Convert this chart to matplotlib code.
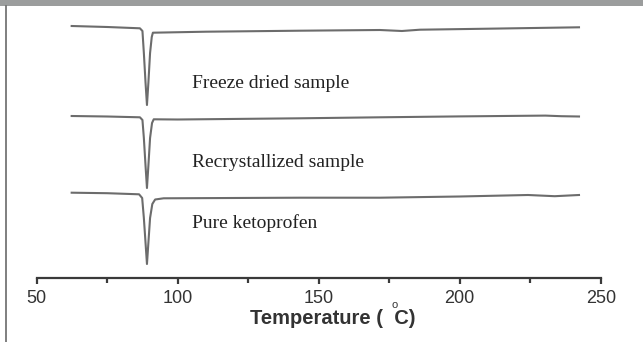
import matplotlib
matplotlib.use("Agg")
import matplotlib.pyplot as plt
from matplotlib.patches import Rectangle
from matplotlib.lines import Line2D

# DSC traces (temperature in C, signal in arbitrary units, offset per curve)
freeze_T = [62.4, 75, 86.6, 87.5, 88.0, 88.6, 89.1, 89.6, 90.2, 90.8, 91.2, 110, 143.4, 171.7, 179.5, 185.9, 210, 242.3]
freeze_y = [252.0, 251.0, 249.7, 247.0, 225.0, 195.0, 173.0, 195.0, 225.0, 241.0, 245.3, 246.3, 247.3, 248.0, 247.0, 248.3, 249.3, 250.7]

recryst_T = [62.4, 75, 86.6, 87.5, 88.0, 88.6, 89.1, 89.6, 90.2, 90.9, 91.5, 100, 143.4, 171.7, 200, 230.4, 236, 242.3]
recryst_y = [162.0, 161.5, 160.7, 158.0, 140.0, 112.0, 90.0, 112.0, 140.0, 155.0, 158.7, 158.5, 159.7, 160.7, 161.6, 162.4, 161.8, 161.5]

pure_T = [62.4, 75, 86.3, 87.4, 88.0, 88.6, 89.1, 89.6, 90.2, 91.0, 92.0, 95.0, 143.4, 171.7, 200, 224.2, 233.7, 242.3]
pure_y = [85.3, 84.8, 83.7, 80.0, 60.0, 35.0, 14.0, 35.0, 60.0, 74.0, 78.5, 79.7, 80.3, 80.3, 81.5, 83.0, 81.8, 83.0]

labels = ["Freeze dried sample", "Recrystallized sample", "Pure ketoprofen"]
label_y = [189.7, 111.3, 49.7]

major_ticks = [50, 100, 150, 200, 250]
minor_ticks = [75, 125, 175, 225]

W, H = 643, 342
fig = plt.figure(figsize=(W / 100, H / 100), dpi=100)
ax = fig.add_axes([36.7 / W, (H - 278) / H, 564 / W, 272 / H])

line_color = "#6c6c6c"
for T, y in [(freeze_T, freeze_y), (recryst_T, recryst_y), (pure_T, pure_y)]:
    ax.plot(T, y, color=line_color, lw=1.5, solid_joinstyle="round")

for text, y in zip(labels, label_y):
    ax.text(105.1, y, text, family="Liberation Serif", fontsize=14,
            color="#222222", ha="left", va="baseline")

ax.set_xlim(50, 250)
ax.set_ylim(0, 272)
for side in ["left", "right", "top"]:
    ax.spines[side].set_visible(False)
ax.spines["bottom"].set_linewidth(1.6)
ax.spines["bottom"].set_color("#3a3a3a")
ax.set_yticks([])
ax.set_xticks(major_ticks)
ax.set_xticks(minor_ticks, minor=True)
ax.tick_params(axis="x", which="major", direction="out", length=4.5, width=1.6,
               color="#3a3a3a", pad=4, labelsize=13, labelcolor="#333333")
ax.tick_params(axis="x", which="minor", direction="out", length=3.5, width=1.6,
               color="#3a3a3a")
for lbl in ax.get_xticklabels():
    lbl.set_family("Liberation Sans")

# axis title with the small raised degree sign
fig.text(333 / W, (H - 318) / H, "Temperature (  C)", family="Liberation Sans",
         fontweight="bold", fontsize=14.5, color="#333333", ha="center", va="center")
fig.text(395 / W, (H - 305) / H, "o", family="Liberation Sans",
         fontsize=8, color="#333333", ha="center", va="center")

# page header bar and left border from the source document
fig.patches.append(Rectangle((0, (H - 6) / H), 1, 6 / H, transform=fig.transFigure,
                             facecolor="#9b9d9d", edgecolor="none"))
fig.lines.append(Line2D([6 / W, 6 / W], [0, (H - 6) / H], transform=fig.transFigure,
                        color="#6a6a6a", lw=1.2))

fig.savefig("out.png", dpi=100)
